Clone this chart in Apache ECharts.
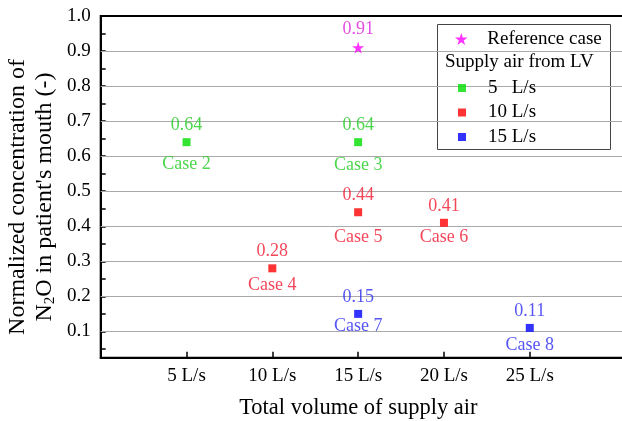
<!DOCTYPE html>
<html>
<head>
<meta charset="utf-8">
<script src="https://cdn.jsdelivr.net/npm/echarts@6/dist/echarts.min.js"></script>
<style>
html,body{margin:0;padding:0;background:#fff;}
#c{width:622px;height:421px;}
</style>
</head>
<body>
<div id="c"></div>
<script>
// ---- data ----
const xTicks = [5, 10, 15, 20, 25];
const xTickLabels = ['5 L/s', '10 L/s', '15 L/s', '20 L/s', '25 L/s'];
const yTicks = [0.1, 0.2, 0.3, 0.4, 0.5, 0.6, 0.7, 0.8, 0.9, 1.0];
const yMinorTicks = [0.05, 0.1, 0.15, 0.2, 0.25, 0.3, 0.35, 0.4, 0.45, 0.5, 0.55, 0.6, 0.65, 0.7, 0.75, 0.8, 0.85, 0.9, 0.95, 1.0];
const gridValues = [0.1, 0.2, 0.3, 0.4, 0.5, 0.6, 0.7, 0.8, 0.9];

const refX = [15];
const refY = [0.91];

const lv5X = [5, 15];
const lv5Y = [0.64, 0.64];
const lv5Cases = ['Case 2', 'Case 3'];

const lv10X = [10, 15, 20];
const lv10Y = [0.28, 0.44, 0.41];
const lv10Cases = ['Case 4', 'Case 5', 'Case 6'];

const lv15X = [15, 25];
const lv15Y = [0.15, 0.11];
const lv15Cases = ['Case 7', 'Case 8'];

// ---- styling ----
const FONT = 'Liberation Serif';
const caseLabelDy = {'Case 2': 22, 'Case 3': 23, 'Case 4': 17, 'Case 5': 25, 'Case 6': 14, 'Case 7': 12, 'Case 8': 17};
const STAR = 'path://M100,0L122.45,69.1L195.1,69.1L136.3,111.8L158.8,180.9L100,138.2L41.2,180.9L63.7,111.8L4.9,69.1L77.55,69.1Z';
const SQUARE = 'path://M0,0L10,0L10,10L0,10Z';

function pts(xs, ys) { return xs.map((x, i) => [x, ys[i]]); }

function groupSeries(name, xs, ys, cases, color, textColor) {
  return [
    {
      name: name, type: 'scatter', symbol: 'rect', symbolSize: 8,
      itemStyle: {color: color},
      data: pts(xs, ys),
      label: {show: true, position: 'inside', offset: [0, -17], color: textColor,
        fontFamily: FONT, fontSize: 18, formatter: p => p.value[1].toFixed(2)},
      z: 5
    },
    {
      name: name + ' cases', type: 'scatter', symbolSize: 1, silent: true,
      itemStyle: {color: 'rgba(0,0,0,0)'},
      data: xs.map((x, i) => ({value: [x, ys[i]], name: cases[i],
        label: {offset: [0, caseLabelDy[cases[i]]]}})),
      label: {show: true, position: 'inside', color: textColor,
        fontFamily: FONT, fontSize: 18, formatter: p => p.name},
      z: 5
    }
  ];
}

const chart = echarts.init(document.getElementById('c'), null, {renderer: 'canvas'});

const option = {
  backgroundColor: '#fff',
  animation: false,
  textStyle: {fontFamily: FONT},
  grid: {left: 100.7, top: 16, right: -8, bottom: 63.3, show: true, containLabel: false, outerBoundsMode: 'none',
    borderColor: '#000', borderWidth: 2, backgroundColor: 'transparent'},
  xAxis: {
    type: 'value', min: 0, max: 30.84,
    axisLine: {show: true, lineStyle: {color: '#000', width: 2}},
    axisTick: {show: true, inside: true, length: 6, customValues: xTicks, lineStyle: {color: '#000', width: 1.5}},
    axisLabel: {show: true, customValues: xTicks, margin: 9, color: '#000', fontFamily: FONT, fontSize: 19,
      formatter: v => xTickLabels[xTicks.indexOf(v)] || ''},
    splitLine: {show: false},
    name: 'Total volume of supply air', nameLocation: 'middle', nameGap: 39,
    nameTextStyle: {color: '#000', fontFamily: FONT, fontSize: 22.5, padding: [0, 14, 0, 0]}
  },
  yAxis: {
    type: 'value', min: 0.025, max: 1.0,
    axisLine: {show: true, lineStyle: {color: '#000', width: 2}},
    axisTick: {show: true, inside: true, length: 5, customValues: yMinorTicks, lineStyle: {color: '#000', width: 1.5}},
    axisLabel: {show: true, customValues: yTicks, margin: 10, color: '#000', fontFamily: FONT, fontSize: 19,
      formatter: v => v.toFixed(1)},
    splitLine: {show: false}
  },
  legend: [
    {
      data: [{name: 'Reference case', icon: STAR}],
      orient: 'vertical', left: 455, top: 27, padding: 0,
      itemWidth: 42, itemHeight: 12, symbolKeepAspect: true,
      textStyle: {color: '#000', fontFamily: FONT, fontSize: 19, lineHeight: 24},
      selectedMode: false, z: 6
    },
    {
      data: [{name: '5   L/s', icon: SQUARE}, {name: '10 L/s', icon: SQUARE}, {name: '15 L/s', icon: SQUARE}],
      orient: 'vertical', left: 458, top: 76, padding: 0, itemGap: 0.5,
      itemWidth: 42, itemHeight: 8, symbolKeepAspect: true,
      textStyle: {color: '#000', fontFamily: FONT, fontSize: 19, lineHeight: 24},
      selectedMode: false, z: 6
    }
  ],
  graphic: [
    {type: 'rect', z: 3, shape: {x: 437.5, y: 24.5, width: 173, height: 125},
      style: {fill: '#fff', stroke: '#444', lineWidth: 1}},
    {type: 'text', z: 6, x: 445, y: 62,
      style: {text: 'Supply air from LV', fill: '#000', font: '19px ' + FONT, textVerticalAlign: 'middle'}},
    {type: 'text', z: 6, x: 31, y: 197, rotation: Math.PI / 2,
      style: {
        text: 'Normalized concentration of\n{n|N}{s|2}{n|O in patient\'s mouth (-)}',
        fill: '#000', font: '24px ' + FONT, textAlign: 'center', textVerticalAlign: 'middle', lineHeight: 27,
        rich: {
          n: {fontFamily: FONT, fontSize: 24, lineHeight: 27, fill: '#000'},
          s: {fontFamily: FONT, fontSize: 15, lineHeight: 27, fill: '#000', verticalAlign: 'bottom', padding: [10, 0, 0, 0]}
        }
      }}
  ],
  series: [
    {
      name: 'Reference case', type: 'scatter', symbol: STAR, symbolSize: 12,
      itemStyle: {color: '#ff00ff'},
      data: pts(refX, refY),
      label: {show: true, position: 'inside', offset: [0, -18], color: '#e020e0',
        fontFamily: FONT, fontSize: 18, formatter: p => p.value[1].toFixed(2)},
      markLine: {
        silent: true, symbol: ['none', 'none'], label: {show: false},
        lineStyle: {color: '#aaa', width: 1, type: 'solid'},
        data: gridValues.map(v => ({yAxis: v}))
      },
      z: 5
    },
    ...groupSeries('5   L/s', lv5X, lv5Y, lv5Cases, '#00dd00', '#22cc22'),
    ...groupSeries('10 L/s', lv10X, lv10Y, lv10Cases, '#ff0000', '#f01830'),
    ...groupSeries('15 L/s', lv15X, lv15Y, lv15Cases, '#0000ff', '#2a2af0')
  ]
};
chart.setOption(option);
</script>
</body>
</html>
